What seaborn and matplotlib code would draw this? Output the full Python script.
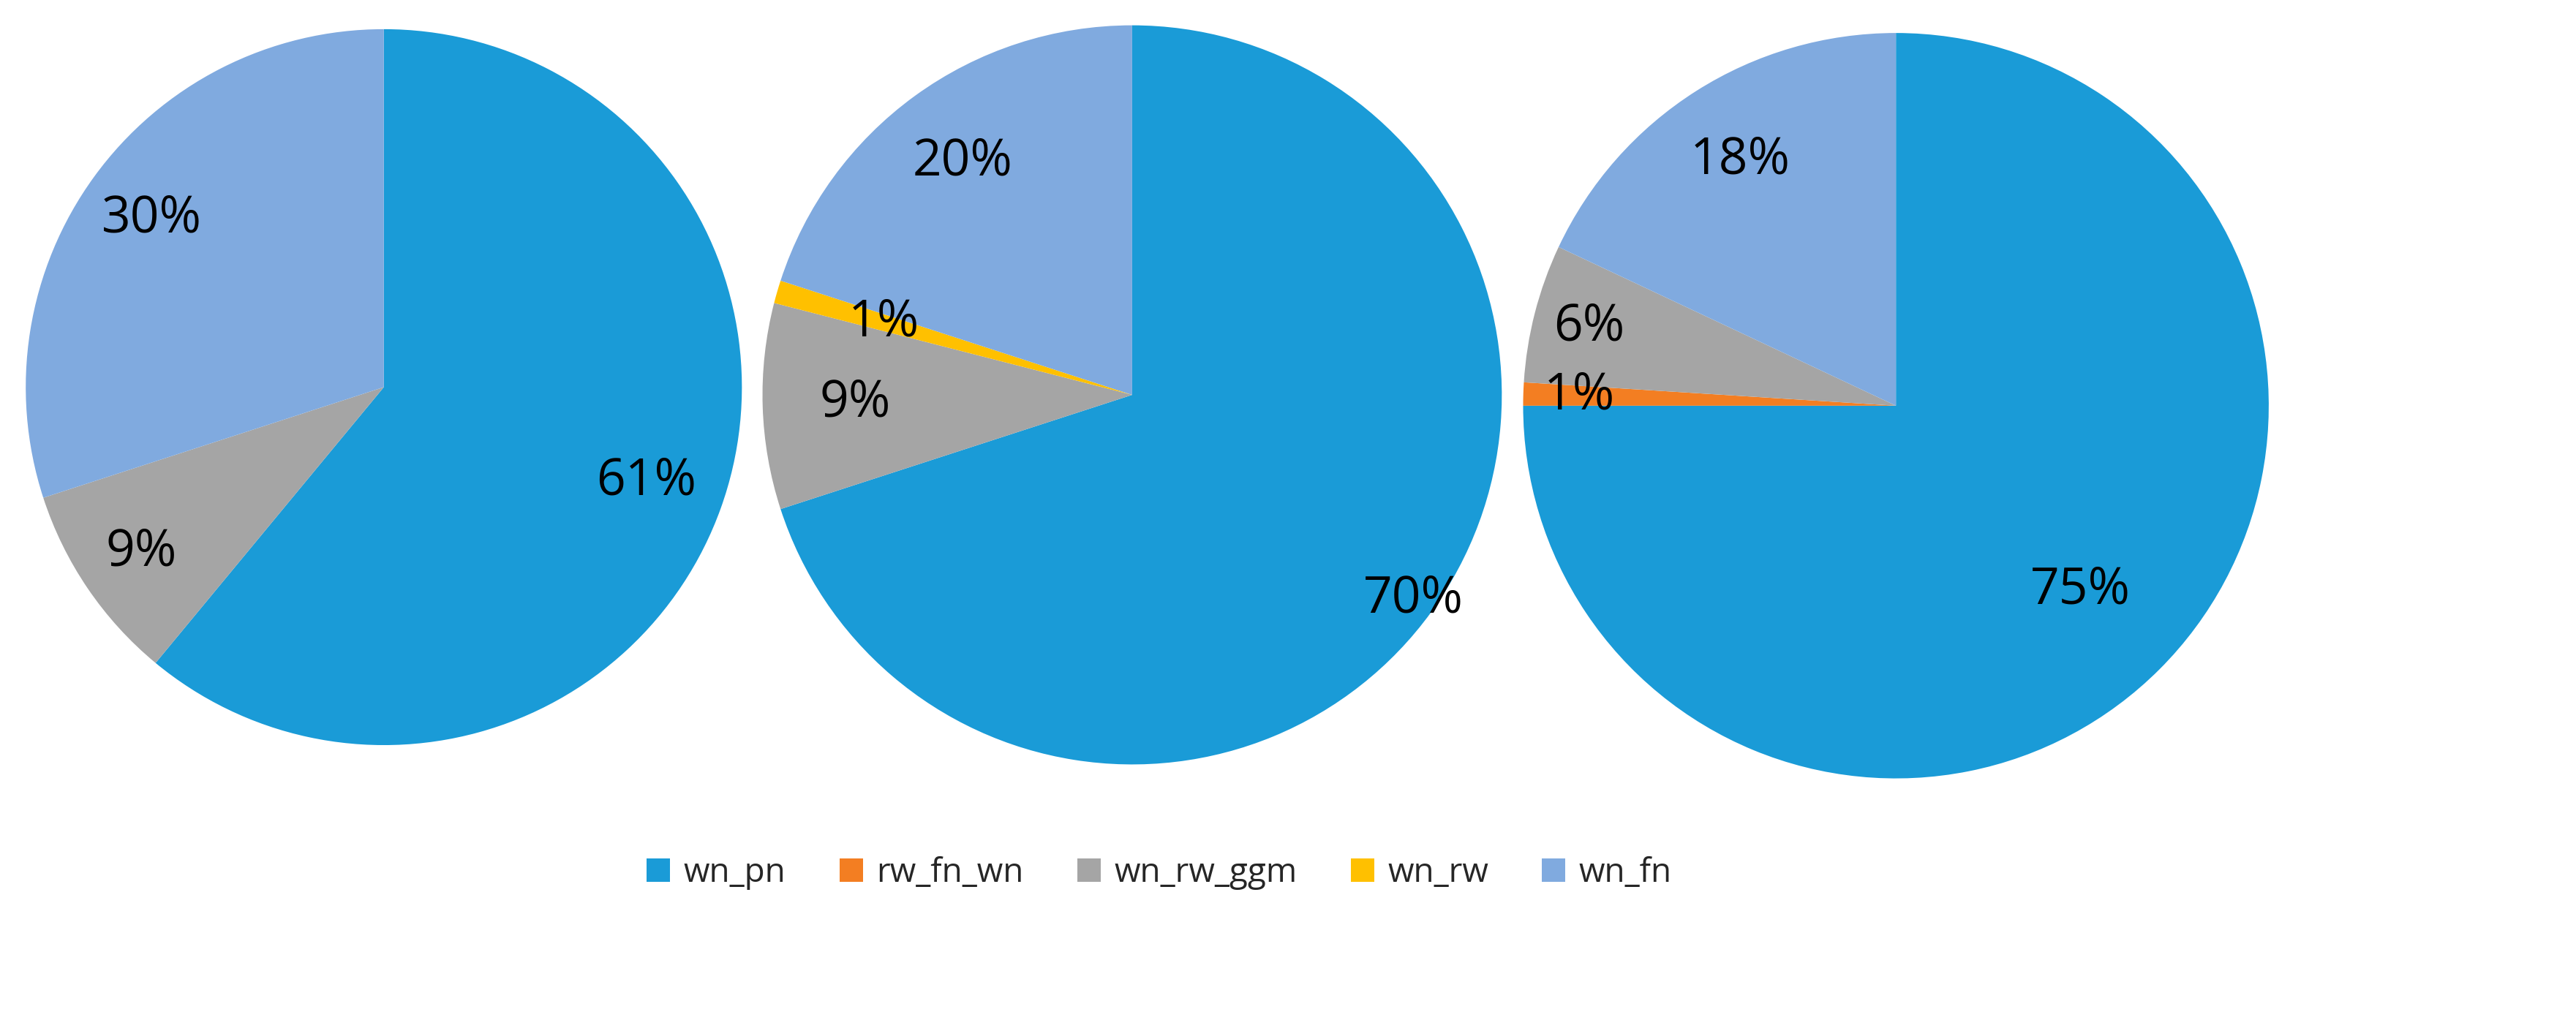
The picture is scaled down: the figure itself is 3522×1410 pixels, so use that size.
import matplotlib
matplotlib.use("Agg")
import numpy as np
import matplotlib.pyplot as plt
import seaborn as sns

sns.set_theme(style="white")
plt.rcParams['font.family'] = ['Open Sans', 'DejaVu Sans']

# slice order, clockwise from 12 o'clock
categories = ["wn_pn", "rw_fn_wn", "wn_rw_ggm", "wn_rw", "wn_fn"]
colors = ["#1A9BD7", "#F37E22", "#A5A5A5", "#FFC000", "#80AADF"]
pie1 = [61, 0, 9, 0, 30]
pie2 = [70, 0, 9, 1, 20]
pie3 = [75, 1, 6, 0, 18]

# label radius per slice (fraction of pie radius)
lab_r1 = [0.78, 0.8, 0.82, 0.8, 0.8]
lab_r2 = [0.94, 0.8, 0.75, 0.7, 0.78]
lab_r3 = [0.7, 0.85, 0.85, 0.8, 0.78]

fig = plt.figure(figsize=(35.22, 14.10), dpi=100)
boxes = [[0.010, 0.277, 0.278, 0.695],
         [0.296, 0.258, 0.287, 0.718],
         [0.591, 0.245, 0.290, 0.723]]

wedges_all = None
for box, vals, radii in zip(boxes, [pie1, pie2, pie3], [lab_r1, lab_r2, lab_r3]):
    ax = fig.add_axes(box)
    wedges, texts, autotexts = ax.pie(
        vals, colors=colors, startangle=90, counterclock=False,
        autopct=lambda p: f"{p:.0f}%" if p > 0 else "",
        pctdistance=0.8, textprops=dict(fontsize=50, color="black"),
        wedgeprops=dict(linewidth=0))
    for w, t, r in zip(wedges, autotexts, radii):
        ang = np.deg2rad((w.theta1 + w.theta2) / 2)
        t.set_position((r * np.cos(ang), r * np.sin(ang)))
    ax.set_aspect("equal")
    ax.set_xlim(-1, 1)
    ax.set_ylim(-1, 1)
    ax.axis("off")
    if wedges_all is None:
        wedges_all = wedges

fig.legend(wedges_all, categories, loc="center", bbox_to_anchor=(0.45, 0.153),
           ncol=5, frameon=False, fontsize=33, handlelength=0.7, handleheight=0.7,
           columnspacing=1.6, handletextpad=0.4)

fig.savefig("out.png", dpi=100)
